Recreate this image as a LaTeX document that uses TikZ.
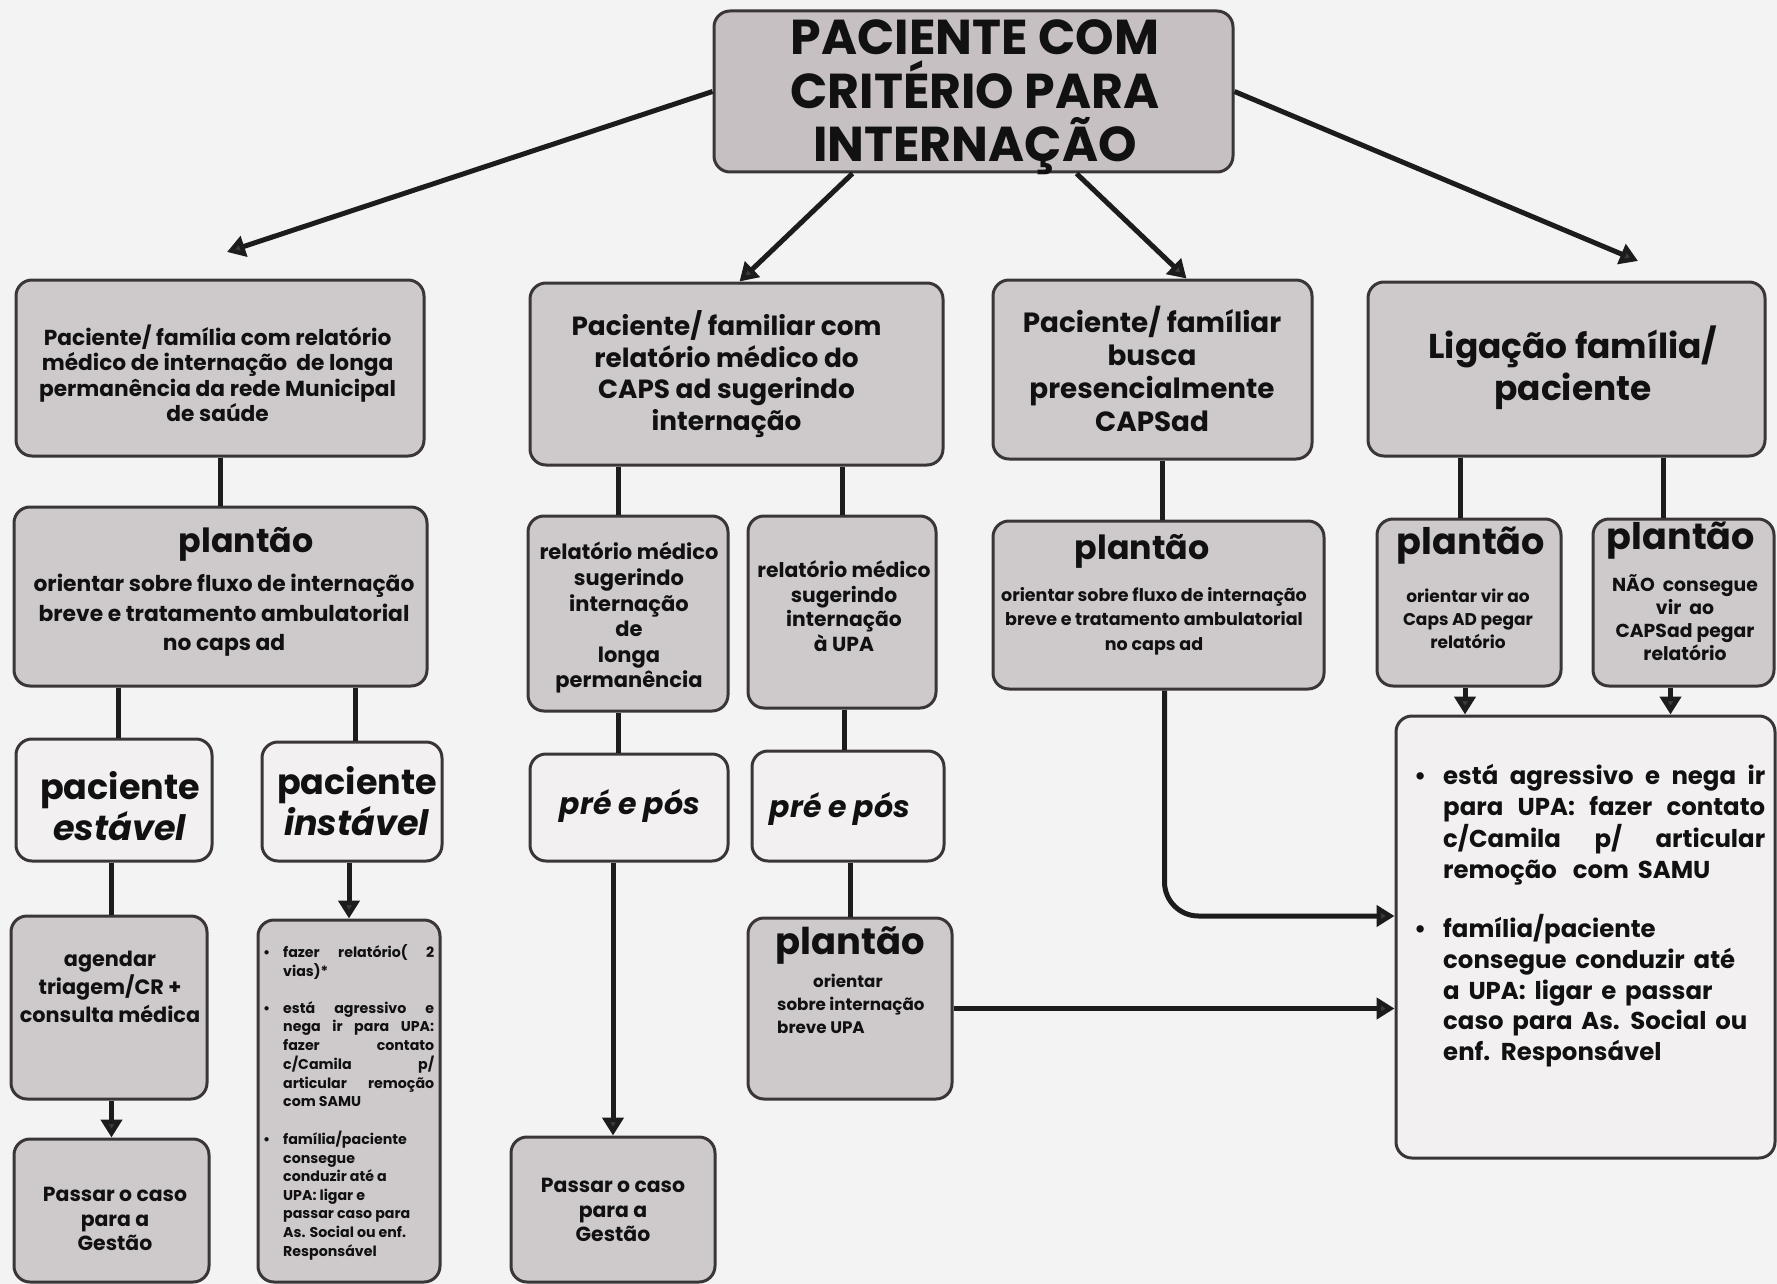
\documentclass[tikz,border=0pt]{standalone}
\usepackage{fontspec}
\setmainfont{Poppins}
\usetikzlibrary{arrows.meta,calc}
\definecolor{bgc}{HTML}{F4F3F3}
\definecolor{grayc}{HTML}{CECACB}
\definecolor{topc}{HTML}{C6C0C2}
\definecolor{lightc}{HTML}{F3F0F2}
\definecolor{bordc}{HTML}{3A3637}
\definecolor{linec}{HTML}{1C1C1C}
\definecolor{arrc}{HTML}{3C3C3C}
\definecolor{txtc}{HTML}{111111}
\newcommand\fs[2]{\fontsize{#1}{#2}\selectfont\bfseries}
\newcommand\jl[2]{\makebox[#1][s]{#2}}
\newcommand\widesp{\spaceskip=0.36em plus 0.3em minus 0.08em\relax}
\begin{document}
\begin{tikzpicture}[x=1pt,y=-1pt,
  box/.style={draw=bordc, line width=3pt, rounded corners=16pt, inner sep=0pt},
  gbox/.style={box, fill=grayc},
  wbox/.style={box, fill=lightc},
  tx/.style={inner sep=0pt, align=center, text=txtc},
  ln/.style={draw=linec, line width=5pt},
  arr/.style={ln, -{Triangle[length=18pt,width=21pt,fill=arrc]}},
]
\useasboundingbox (0,0) rectangle (1777,1284);
\fill[bgc] (0,0) rectangle (1777,1284);

% ---------- boxes ----------
\node[box, fill=topc, minimum width=519pt, minimum height=161pt] (top) at (973.5,91.5) {};
\node[gbox, minimum width=408pt, minimum height=176pt] (a1) at (220,368) {};
\node[gbox, minimum width=413pt, minimum height=182pt] (b1) at (736.5,374) {};
\node[gbox, minimum width=319pt, minimum height=179pt] (c1) at (1152.5,369.5) {};
\node[gbox, minimum width=397pt, minimum height=174pt] (d1) at (1566.5,369) {};

\node[gbox, minimum width=413pt, minimum height=179pt] (a2) at (220.5,596.5) {};
\node[gbox, minimum width=200pt, minimum height=195pt] (b2a) at (628,613.5) {};
\node[gbox, minimum width=188pt, minimum height=192pt] (b2b) at (842,612) {};
\node[gbox, minimum width=331pt, minimum height=168pt] (c2) at (1158.5,605) {};
\node[gbox, minimum width=184pt, minimum height=167pt] (d2a) at (1469,602.5) {};
\node[gbox, minimum width=181pt, minimum height=167pt] (d2b) at (1683.5,602.5) {};

\node[wbox, minimum width=196pt, minimum height=122pt] (a3a) at (114,800) {};
\node[wbox, minimum width=180pt, minimum height=119pt] (a3b) at (352,801.5) {};
\node[wbox, minimum width=198pt, minimum height=107pt] (b3a) at (629,807.5) {};
\node[wbox, minimum width=192pt, minimum height=110pt] (b3b) at (848,806) {};
\node[wbox, minimum width=379pt, minimum height=442pt] (d3) at (1585.5,937) {};

\node[gbox, minimum width=196pt, minimum height=183pt] (a4a) at (109,1007.5) {};
\node[gbox, minimum width=182pt, minimum height=362pt] (a4b) at (349,1101) {};
\node[gbox, minimum width=204pt, minimum height=181pt] (b4b) at (850,1008.5) {};
\node[gbox, minimum width=195pt, minimum height=143pt] (a5a) at (111.5,1210.5) {};
\node[gbox, minimum width=204pt, minimum height=145pt] (b4a) at (613,1209.5) {};

% ---------- texts ----------
\node[tx, font=\fs{49}{53.5}] (topt) at (975,97.5) {PACIENTE COM\\CRITÉRIO PARA\\INTERNAÇÃO};
\node[tx, font=\fs{21.7}{25.5}] (a1t) at (217.6,373.5) {Paciente/ família com relatório\\médico de internação\ \ de longa\\permanência da rede Municipal\\de saúde};
\node[tx, font=\fs{26.3}{31.7}] (b1t) at (726.5,374) {Paciente/ familiar com\\relatório médico do\\CAPS ad sugerindo\\internação};
\node[tx, font=\fs{27.8}{33}] (c1t) at (1152,369) {Paciente/ famíliar\\busca\\presencialmente\\CAPSad};
\node[tx, font=\fs{34.4}{42}] (d1t) at (1573,368) {Ligação família/\\paciente};

\node[tx, font=\fs{33.3}{40}] (a2p) at (246,544) {plantão};
\node[tx, font=\fs{21.8}{29.5}] (a2s) at (224,615.5) {orientar sobre fluxo de internação\\breve e tratamento ambulatorial\\no caps ad};
\node[tx, font=\fs{21}{25.6}] (b2at) at (629,618) {relatório médico\\sugerindo\\internação\\de\\longa\\permanência};
\node[tx, font=\fs{20.3}{24.6}] (b2bt) at (844,606) {relatório médico\\sugerindo\\internação\\à UPA};
\node[tx, font=\fs{33.3}{40}] (c2p) at (1142,551) {plantão};
\node[tx, font=\fs{17.5}{24.4}] (c2s) at (1154,621) {orientar sobre fluxo de internação\\breve e tratamento ambulatorial\\no caps ad};
\node[tx, font=\fs{36.6}{42}] (d2ap) at (1471,546) {plantão};
\node[tx, font=\fs{17}{23}] (d2as) at (1468,619) {orientar vir ao\\Caps AD pegar\\relatório};
\node[tx, font=\fs{36.6}{42}] (d2bp) at (1681,541) {plantão};
\node[tx, font=\fs{18.8}{23}] (d2bs) at (1685,618) {NÃO\ \ consegue\\vir\ \ ao\\CAPSad pegar\\relatório};

\node[tx, font=\fs{35}{41}] (a3at) at (120,806) {paciente\\\textit{estável}};
\node[tx, font=\fs{35}{41}] (a3bt) at (357,801) {paciente\\\textit{instável}};
\node[tx, font=\fs{30}{34}] (b3at) at (630,806) {\textit{pré e pós}};
\node[tx, font=\fs{30}{34}] (b3bt) at (840,809) {\textit{pré e pós}};

\node[tx, font=\fs{20.8}{28}] (a4at) at (110,987) {agendar\\triagem/CR +\\consulta médica};
\node[tx, anchor=west, font=\fs{14.2}{18.6}] (a4bt) at (263,1103) {%
\begin{tabular}{@{}l@{}l@{}}
\makebox[20pt][l]{\textbullet} & \jl{151pt}{fazer relatório( 2}\\
 & vias)*\\[18.6pt]
\makebox[20pt][l]{\textbullet} & \jl{151pt}{está agressivo e}\\
 & \jl{151pt}{nega ir para UPA:}\\
 & \jl{151pt}{fazer contato}\\
 & \jl{151pt}{c/Camila p/}\\
 & \jl{151pt}{articular remoção}\\
 & com SAMU\\[18.6pt]
\makebox[20pt][l]{\textbullet} & família/paciente\\
 & consegue\\
 & conduzir até a\\
 & UPA: ligar e\\
 & passar caso para\\
 & As. Social ou enf.\\
 & Responsável
\end{tabular}};
\node[tx, font=\fs{36.9}{42}] (b4bp) at (850,946) {plantão};
\node[tx, anchor=west, align=left, font=\fs{16.7}{23}] (b4bs) at (777,1004) {\hspace*{36pt}orientar\\sobre internação\\breve UPA};
\node[tx, anchor=west, font=\fs{24.4}{30.6}] (d3t) at (1414,916.5) {\widesp%
\begin{tabular}{@{}l@{}l@{}}
\makebox[29pt][l]{\textbullet} & \jl{322pt}{está agressivo e nega ir}\\
 & \jl{322pt}{para UPA: fazer contato}\\
 & \jl{322pt}{c/Camila p/ articular}\\
 & remoção\hspace{16pt}com SAMU\\[27pt]
\makebox[29pt][l]{\textbullet} & família/paciente\\
 & consegue conduzir até\\
 & a UPA: ligar e passar\\
 & caso para As. Social ou\\
 & enf. Responsável
\end{tabular}};
\node[tx, font=\fs{20.4}{24.4}] (a5at) at (115,1219) {Passar o caso\\para a\\Gestão};
\node[tx, font=\fs{20.4}{24.4}] (b4at) at (613,1210) {Passar o caso\\para a\\Gestão};

% ---------- connectors ----------
\coordinate (a1tip) at (227,252);
\coordinate (d1tip) at (1638,261);
\draw[arr] (top.west) -- (a1tip);
\draw[arr] ([xshift=-121pt]top.south) -- ([xshift=3pt]b1.north);
\draw[arr] ([xshift=103pt]top.south) -- ([xshift=34pt]c1.north);
\draw[arr] (top.east) -- (d1tip);

\draw[ln] (a1.south) -- (a1.south |- a2.north);
\draw[ln] ([xshift=4pt]a3a.north) -- ([xshift=4pt]a3a.north |- a2.south);
\draw[ln] ([xshift=3pt]a3b.north) -- ([xshift=3pt]a3b.north |- a2.south);
\draw[ln] ([xshift=2pt]a4a.north) -- ([xshift=2pt]a4a.north |- a3a.south);
\draw[arr] (a4b.north |- a3b.south) -- (a4b.north);
\draw[arr] (a5a.north |- a4a.south) -- (a5a.north);

\draw[ln] ([xshift=-10pt]b2a.north) -- ([xshift=-10pt]b2a.north |- b1.south);
\draw[ln] (b2b.north) -- (b2b.north |- b1.south);
\draw[ln] ([xshift=-11pt]b3a.north) -- ([xshift=-11pt]b3a.north |- b2a.south);
\draw[ln] ([xshift=-4pt]b3b.north) -- ([xshift=-4pt]b3b.north |- b2b.south);
\draw[arr] (b4a.north |- b3a.south) -- (b4a.north);
\draw[ln] (b4b.north) -- (b4b.north |- b3b.south);
\draw[arr] (b4b.east) -- (b4b.east -| d3.west);

\draw[ln] ([xshift=4pt]c2.north) -- ([xshift=4pt]c2.north |- c1.south);
\draw[arr, rounded corners=34pt] ([xshift=6pt]c2.south) |- ([yshift=21pt]d3.west);

\draw[ln] ([xshift=-9pt]d2a.north) -- ([xshift=-9pt]d2a.north |- d1.south);
\draw[ln] ([xshift=-20pt]d2b.north) -- ([xshift=-20pt]d2b.north |- d1.south);
\draw[arr] ([xshift=-4pt]d2a.south) -- ([xshift=-4pt]d2a.south |- d3.north);
\draw[arr] ([xshift=-13pt]d2b.south) -- ([xshift=-13pt]d2b.south |- d3.north);
\end{tikzpicture}
\end{document}
